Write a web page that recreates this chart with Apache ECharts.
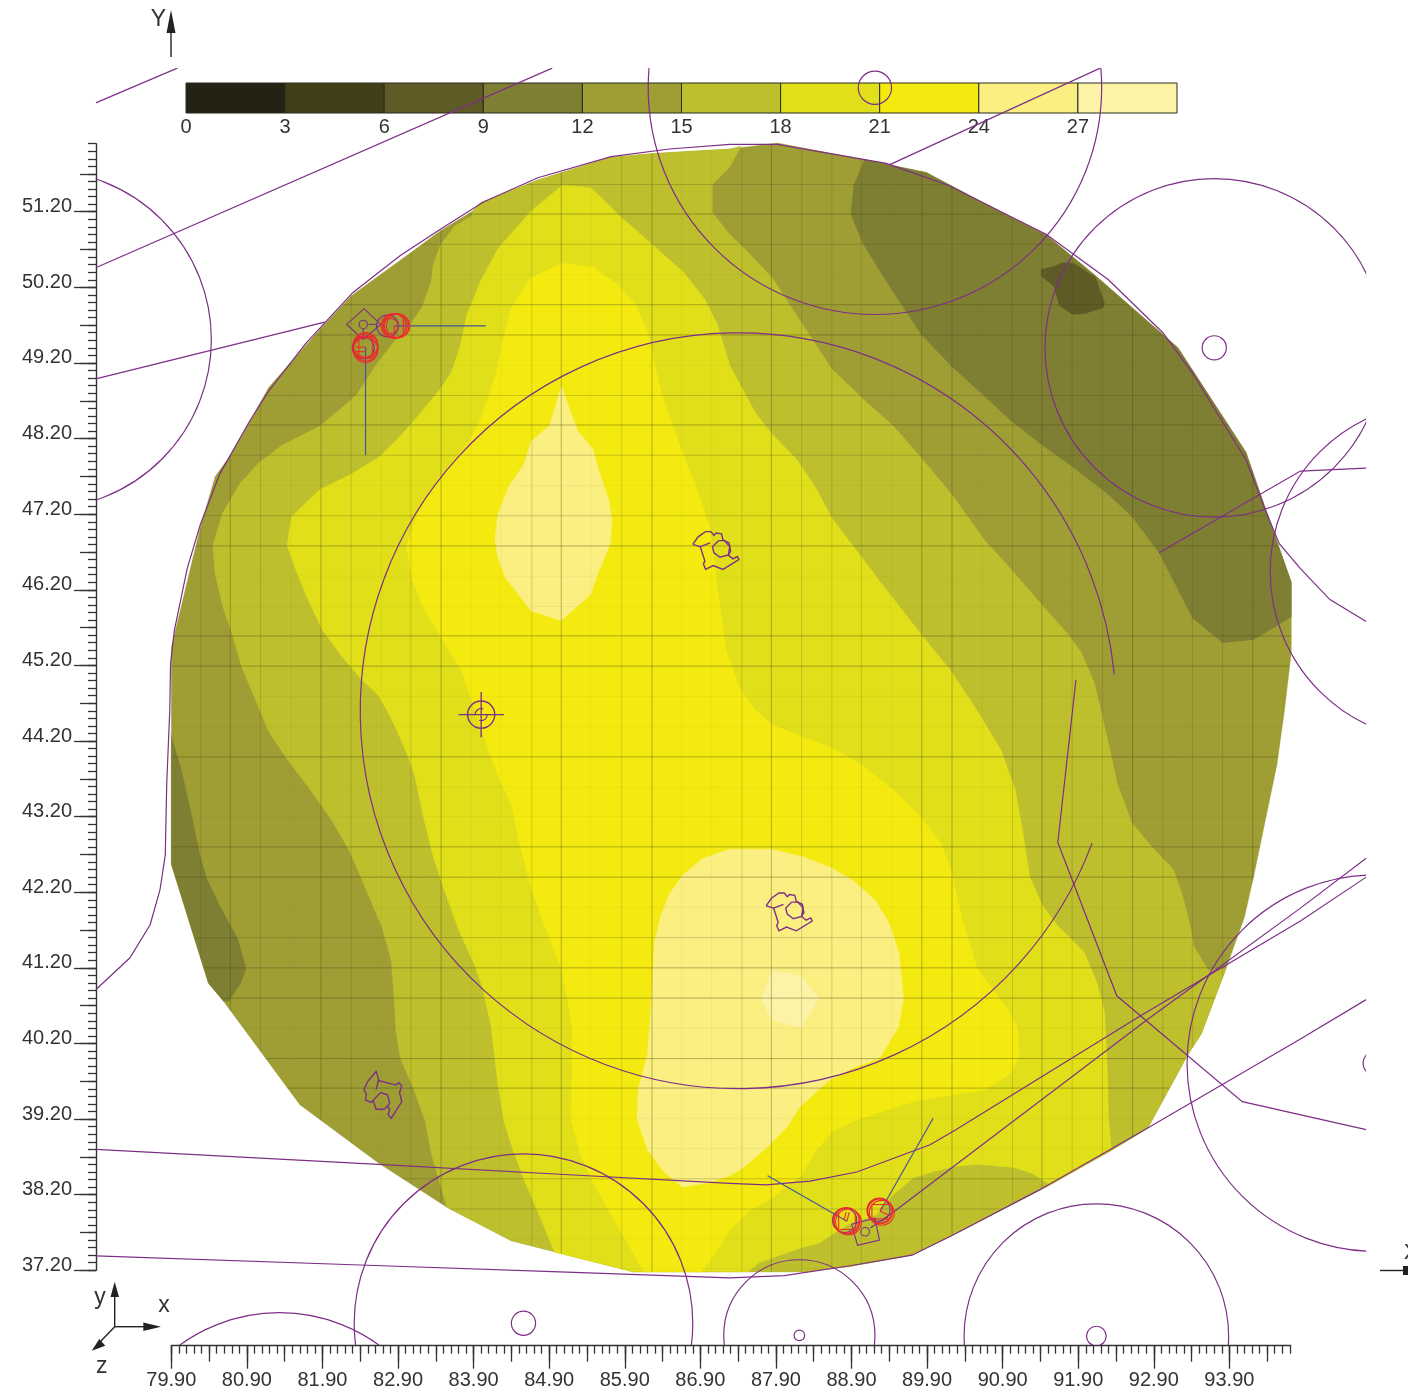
<!DOCTYPE html>
<html><head><meta charset="utf-8">
<style>html,body{margin:0;padding:0;background:#fff}#c{width:1408px;height:1391px}</style>
<script src="https://cdn.jsdelivr.net/npm/echarts@6/dist/echarts.min.js"></script>
</head><body><div id="c"></div>
<script>
// ---- scale ticks
const xMajorTicks=[79.9,80.9,81.9,82.9,83.9,84.9,85.9,86.9,87.9,88.9,89.9,90.9,91.9,92.9,93.9];
const yMajorTicks=[37.2,38.2,39.2,40.2,41.2,42.2,43.2,44.2,45.2,46.2,47.2,48.2,49.2,50.2,51.2];
const colorbarTicks=[0,3,6,9,12,15,18,21,24,27];
const colorbarLevels=[[0,3],[3,6],[6,9],[9,12],[12,15],[15,18],[18,21],[21,24],[24,27],[27,30]];
const levelColors=['#232213','#423f18','#5e5b27','#7f7f33','#9f9e35','#bdbf2d','#e0df1a','#f5ea10','#faef80','#fcf3a6'];
// ---- filled contour regions (x, y)
const regionOutline=[[79.90,45.44],[80.28,47.01],[80.48,47.70],[80.69,47.99],[81.19,48.88],[81.87,49.65],[82.28,50.09],[83.07,50.66],[83.46,50.95],[83.89,51.21],[83.99,51.32],[84.75,51.62],[85.72,51.92],[86.27,51.97],[87.29,52.03],[87.92,52.11],[88.44,52.01],[89.07,51.89],[89.89,51.72],[90.85,51.21],[91.48,50.89],[92.11,50.37],[92.97,49.62],[93.22,49.40],[94.12,48.02],[94.32,47.44],[94.72,46.30],[94.72,45.37],[94.63,44.61],[94.53,43.89],[94.22,42.40],[94.10,41.87],[93.84,41.15],[93.53,40.33],[93.35,40.05],[92.82,39.08],[92.35,38.79],[91.53,38.33],[90.23,37.66],[89.70,37.40],[88.88,37.25],[88.30,37.18],[87.29,37.18],[86.01,37.18],[84.40,37.59],[83.55,38.03],[82.64,38.62],[81.60,39.39],[80.59,40.76],[80.39,41.00],[79.90,42.57],[79.90,44.28]];
const band9Left=[[79.90,44.28],[80.04,43.79],[80.16,43.26],[80.28,42.69],[80.37,42.38],[80.54,42.02],[80.78,41.58],[80.89,41.19],[80.82,41.00],[80.66,40.76],[80.59,40.76],[80.39,41.00],[79.90,42.57]];
const band9Right=[[89.07,51.89],[88.93,51.55],[88.89,51.17],[89.05,50.78],[89.36,50.28],[89.82,49.58],[90.23,49.15],[90.66,48.76],[91.03,48.42],[91.43,48.11],[91.82,47.83],[92.30,47.46],[92.61,47.17],[92.97,46.69],[93.41,45.83],[93.81,45.50],[94.22,45.54],[94.72,45.84],[94.72,46.30],[94.32,47.44],[94.12,48.02],[93.22,49.40],[92.97,49.62],[92.11,50.37],[91.48,50.89],[90.85,51.21],[89.89,51.72]];
const band6=[[91.41,50.44],[91.55,50.47],[91.70,50.53],[91.84,50.52],[92.13,50.33],[92.25,49.99],[92.23,49.93],[91.98,49.85],[91.82,49.84],[91.65,49.96],[91.58,50.21],[91.41,50.35]];
const band15=[[83.89,51.21],[83.87,51.14],[83.65,51.01],[83.46,50.76],[83.36,50.49],[83.34,50.28],[83.22,49.94],[83.05,49.70],[82.83,49.46],[82.64,49.22],[82.35,48.78],[82.11,48.57],[81.87,48.37],[81.36,48.11],[81.07,47.89],[80.81,47.61],[80.58,47.22],[80.45,46.79],[80.48,46.40],[80.59,45.95],[80.69,45.66],[80.83,45.18],[81.07,44.61],[81.19,44.32],[81.41,43.99],[81.72,43.58],[82.01,43.17],[82.25,42.76],[82.45,42.30],[82.69,41.73],[82.81,41.29],[82.85,40.76],[82.87,40.38],[82.93,40.00],[83.09,39.64],[83.26,39.17],[83.34,38.74],[83.46,38.32],[83.55,38.03],[84.40,37.59],[86.01,37.18],[87.29,37.18],[88.30,37.18],[88.88,37.25],[89.70,37.40],[90.23,37.66],[91.53,38.33],[92.35,38.79],[92.82,39.08],[93.35,40.05],[93.53,40.33],[93.86,41.20],[93.62,41.17],[93.43,41.49],[93.38,41.77],[93.28,42.16],[93.16,42.50],[92.85,42.83],[92.61,43.12],[92.42,43.63],[92.32,44.08],[92.20,44.61],[92.11,44.98],[91.94,45.37],[91.77,45.61],[91.43,45.99],[91.05,46.43],[90.66,46.86],[90.23,47.46],[89.82,47.95],[89.46,48.36],[89.07,48.71],[88.64,49.12],[88.26,49.70],[87.85,50.33],[87.44,50.76],[87.29,50.90],[87.06,51.19],[87.06,51.56],[87.29,51.79],[87.44,52.07],[87.29,52.03],[86.27,51.97],[85.72,51.92],[84.75,51.62],[83.99,51.32]];
const band18=[[85.07,51.55],[85.45,51.52],[85.65,51.33],[85.84,51.14],[86.25,50.78],[86.68,50.40],[86.97,50.03],[87.13,49.70],[87.29,49.17],[87.63,48.54],[87.85,48.26],[88.18,47.92],[88.44,47.53],[88.64,47.15],[88.93,46.77],[89.24,46.36],[89.56,45.95],[89.84,45.59],[90.20,45.15],[90.56,44.61],[90.88,44.08],[91.07,43.55],[91.17,42.98],[91.26,42.40],[91.43,42.02],[91.62,41.77],[91.98,41.41],[92.15,41.00],[92.25,40.62],[92.29,39.80],[92.30,39.23],[92.34,38.80],[91.53,38.33],[91.29,38.48],[91.05,38.56],[90.56,38.60],[90.24,38.57],[89.94,38.49],[89.72,38.42],[89.45,38.20],[89.23,37.93],[88.90,37.83],[88.70,37.71],[88.48,37.56],[88.22,37.49],[87.96,37.40],[87.68,37.30],[87.53,37.18],[86.01,37.18],[84.97,37.44],[84.75,37.97],[84.56,38.41],[84.42,38.79],[84.30,39.17],[84.22,39.66],[84.18,40.00],[84.13,40.43],[84.01,40.96],[83.91,41.24],[83.69,41.73],[83.50,42.26],[83.36,42.69],[83.24,43.17],[83.12,43.74],[83.02,44.03],[82.87,44.37],[82.75,44.61],[82.64,44.80],[82.40,45.03],[82.13,45.35],[81.89,45.68],[81.70,46.09],[81.55,46.45],[81.43,46.79],[81.49,47.17],[81.87,47.53],[82.28,47.73],[82.64,47.95],[82.88,48.18],[83.12,48.45],[83.46,48.86],[83.60,49.07],[83.72,49.41],[83.81,49.84],[83.99,50.28],[84.22,50.71],[84.66,51.21]];
const band21=[[85.07,50.52],[85.48,50.47],[85.79,50.25],[86.05,49.96],[86.21,49.60],[86.27,49.31],[86.39,48.78],[86.61,48.16],[86.87,47.49],[87.02,47.05],[87.09,46.52],[87.16,45.99],[87.24,45.40],[87.43,44.88],[87.63,44.61],[87.85,44.42],[88.26,44.25],[88.64,44.11],[89.03,43.89],[89.46,43.55],[89.84,43.17],[90.09,42.83],[90.23,42.45],[90.37,41.82],[90.56,41.20],[90.95,40.67],[91.10,40.41],[91.12,40.02],[91.00,39.80],[90.66,39.58],[90.18,39.51],[89.79,39.45],[89.22,39.27],[88.93,39.17],[88.64,39.03],[88.44,38.79],[88.23,38.45],[87.87,38.17],[87.53,37.97],[87.29,37.73],[87.11,37.44],[86.92,37.18],[86.15,37.18],[85.86,37.69],[85.48,38.36],[85.31,38.74],[85.19,39.17],[85.20,39.80],[85.20,40.43],[85.14,40.81],[85.04,41.24],[84.85,41.73],[84.66,42.26],[84.51,42.83],[84.40,43.36],[84.22,43.74],[84.03,44.27],[83.87,44.74],[83.74,45.13],[83.46,45.59],[83.24,45.95],[83.09,46.33],[83.01,46.77],[83.16,47.22],[83.46,47.71],[83.84,48.16],[83.99,48.45],[84.10,48.78],[84.20,49.07],[84.28,49.46],[84.40,49.94],[84.66,50.33]];
const band24Upper=[[85.06,48.90],[85.19,48.54],[85.28,48.30],[85.48,48.06],[85.57,47.73],[85.69,47.39],[85.73,47.12],[85.71,46.81],[85.55,46.43],[85.45,46.14],[85.06,45.79],[84.66,45.92],[84.32,46.36],[84.22,46.62],[84.18,46.86],[84.22,47.20],[84.37,47.58],[84.56,47.85],[84.66,48.16],[84.90,48.37],[84.97,48.59]];
const band24Lower=[[87.29,42.77],[87.85,42.77],[88.26,42.67],[88.64,42.52],[88.93,42.35],[89.22,42.09],[89.41,41.77],[89.53,41.39],[89.59,40.79],[89.52,40.41],[89.27,40.00],[88.93,39.88],[88.59,39.70],[88.21,39.35],[88.06,39.11],[87.78,38.82],[87.46,38.55],[87.29,38.45],[87.02,38.36],[86.66,38.30],[86.42,38.50],[86.20,38.79],[86.06,39.20],[86.08,39.61],[86.20,40.05],[86.25,40.76],[86.29,41.53],[86.37,41.87],[86.48,42.16],[86.66,42.42],[86.92,42.64],[87.16,42.73]];
const band27=[[87.85,41.17],[88.23,41.10],[88.47,40.79],[88.24,40.41],[87.85,40.50],[87.70,40.79]];
// ---- mesh lines
const meshXStrong=[80.68,81.88,83.47,85.06,86.26,87.84,89.83,90.23,91.42,92.62,94.21];
const meshXMedium=[80.29,81.08,82.28,83.07,84.67,85.86,87.45,88.24,88.64,89.03,91.03,91.82,92.22,93.02,93.41,93.81];
const meshXFaint=[81.48,82.68,83.87,84.26,85.45,86.65,87.05,89.43,90.63,94.61];
const meshYStrong=[51.17,49.97,49.57,48.38,46.78,45.59,45.19,43.99,42.80,42.40,41.20,40.80,40.00,39.61];
const meshYMedium=[51.56,50.77,48.77,47.98,47.18,41.60,38.41,38.01];
const meshYFaint=[50.37,49.17,47.58,46.38,45.98,44.79,44.39,43.59,43.20,42.00,40.40,39.21,38.81,37.62,37.22];
// ---- overlay lines
const viewWindow=[78.90,95.71,36.21,53.10];
const lineA=[[78.90,52.64],[79.98,53.10]];
const lineB=[[78.90,50.46],[84.94,53.10]];
const lineC=[[78.90,48.99],[81.93,49.74]];
const lineD=[[89.40,51.82],[92.19,53.10]];
const outlineTrace=[[78.90,40.91],[79.35,41.33],[79.62,41.77],[79.75,42.23],[79.82,42.69],[79.84,43.65],[79.88,44.61],[79.89,45.22],[79.94,45.66],[80.11,46.48],[80.28,47.05],[80.54,47.73],[80.93,48.42],[81.19,48.83],[81.68,49.46],[82.30,50.13],[82.93,50.62],[83.46,50.97],[84.03,51.33],[84.75,51.65],[85.72,51.93],[86.49,52.03],[87.29,52.09],[87.92,52.09],[89.36,51.84],[90.18,51.55],[91.48,50.90],[92.30,50.30],[93.02,49.60],[93.41,49.07],[94.12,47.92],[94.37,47.27],[94.56,46.81],[94.84,46.48],[95.23,46.07],[95.71,45.78]];
const lowerTrace=[[78.90,37.39],[82.40,37.27],[85.04,37.18],[87.29,37.10],[88.01,37.13],[88.88,37.26],[89.70,37.40],[90.23,37.66],[91.38,38.26],[92.78,39.06],[94.84,40.26],[95.71,40.78]];
const sweepTrace=[[78.90,38.80],[82.64,38.60],[85.04,38.47],[87.29,38.35],[87.77,38.33],[88.35,38.38],[88.97,38.50],[89.94,38.86],[90.28,39.06],[92.73,40.57],[93.59,41.08],[94.84,41.99],[95.71,42.65]];
const feedTrace=[[89.15,37.76],[89.43,37.95],[92.82,40.52],[93.59,41.08],[94.84,41.82],[95.71,42.40]];
const kinkTrace=[[91.87,45.01],[91.63,42.86],[92.41,40.83],[94.07,39.43],[95.71,39.06]];
const branchTrace=[[92.97,46.69],[94.84,47.77],[95.71,47.81]];
// circles: x, y, radius
const circles=[[89.21,52.84,3.00],[89.21,52.84,0.22],[93.70,49.40,2.24],[93.70,49.40,0.16],[78.19,49.51,2.24],[96.68,46.44,2.24],[95.83,39.94,2.49],[95.83,39.94,0.16],[84.56,36.50,2.24],[84.56,36.50,0.16],[88.21,36.34,1.00],[88.21,36.34,0.07],[92.14,36.33,1.75],[92.14,36.33,0.13],[81.33,34.40,2.24]];
// arc: x, y, radius, start degree, end degree
const mainArc=[87.40,44.60,5.00,20.5,354.5];
// glyph shapes as offsets around a centre
const glyphCentersA=[[87.10,46.73],[88.07,41.95]];
const glyphOutlineA=[[-0.30,0.07],[-0.23,0.17],[-0.13,0.24],[-0.06,0.24],[-0.02,0.19],[0.01,0.22],[0.08,0.21],[0.10,0.13],[0.18,0.09],[0.20,-0.02],[0.17,-0.07],[0.23,-0.12],[0.29,-0.09],[0.31,-0.13],[0.10,-0.26],[-0.03,-0.21],[-0.13,-0.26],[-0.16,-0.19],[-0.14,-0.15],[-0.20,0.04],[-0.30,0.07]];
const glyphHexA=[[0.04,0.12],[0.12,0.12],[0.19,0.04],[0.17,-0.07],[0.06,-0.10],[-0.02,-0.04],[-0.04,0.04],[0.04,0.12]];
const glyphStubA=[[-0.20,0.04],[-0.07,0.09]];
const glyphCentersB=[[82.68,39.52]];
const glyphOutlineB=[[-0.11,-0.07],[-0.13,-0.10],[-0.21,-0.07],[-0.20,0.01],[-0.23,0.07],[-0.18,0.18],[-0.07,0.31],[-0.04,0.22],[-0.04,0.19],[0.19,0.13],[0.23,0.16],[0.27,0.12],[0.24,0.03],[0.27,-0.09],[0.13,-0.31],[0.09,-0.26],[0.11,-0.19],[0.08,-0.15]];
const glyphHexB=[[-0.11,-0.07],[-0.01,0.03],[0.08,0.00],[0.11,-0.11],[0.04,-0.19],[-0.07,-0.19],[-0.11,-0.07]];
const glyphStubB=[[-0.04,0.19],[-0.07,0.07]];
// target
const targetPoint=[84.00,44.55,0.18,0.30,0.08];
// well markers
const diamond=[[82.45,49.92],[82.67,49.71],[82.44,49.51],[82.22,49.71],[82.45,49.92]];
const square=[[88.90,37.81],[89.21,37.89],[89.27,37.60],[88.98,37.53],[88.90,37.81]];
const stubLines=[[[82.51,49.71],[82.62,49.71]],[[82.44,49.65],[82.44,49.53]]];
const wellCircles=[[82.44,49.71,0.055],[82.76,49.69,0.145],[82.44,49.40,0.145],[89.08,37.71,0.057],[88.81,37.86,0.16],[89.26,38.00,0.15]];
const redCircles=[[82.84,49.69,0.163],[82.86,49.69,0.163],[82.88,49.69,0.163],[82.90,49.69,0.155],[82.80,49.69,0.10],[82.47,49.44,0.162],[82.47,49.42,0.165],[82.47,49.39,0.165],[82.47,49.37,0.162],[88.83,37.86,0.17],[88.84,37.85,0.17],[88.86,37.84,0.17],[89.27,37.99,0.165],[89.28,37.98,0.165],[89.30,37.96,0.165]];
const redLines=[[[82.85,49.70],[82.85,49.55]],[[82.72,49.79],[82.72,49.59]],[[82.97,49.80],[82.97,49.58]],[[82.34,49.41],[82.47,49.41]],[[82.34,49.35],[82.47,49.35]],[[82.38,49.55],[82.56,49.55]],[[82.38,49.27],[82.56,49.27]],[[82.38,49.54],[82.38,49.28]],[[82.56,49.54],[82.56,49.28]],[[88.84,37.85],[88.87,37.97]],[[88.80,37.86],[88.83,37.97]],[[88.73,37.96],[88.73,37.74]],[[88.95,37.96],[88.95,37.74]],[[88.75,37.74],[88.93,37.74]],[[89.28,37.98],[89.39,37.93]],[[89.28,37.98],[89.30,38.04]],[[89.17,38.07],[89.39,38.07]],[[89.17,37.88],[89.39,37.88]],[[89.17,38.07],[89.17,37.88]]];
const blueLines=[[[82.86,49.69],[84.06,49.69]],[[82.47,49.41],[82.47,47.98]],[[87.79,38.45],[88.84,37.85]],[[89.28,37.98],[89.98,39.21]]];

const PURPLE='#7d2f87',BLUE='#46559c',RED='#ee2a2e',INK='#333333',FONT='"Liberation Sans",Arial,sans-serif';
const DEG=Math.PI/180;

function single(name,z,render,pointData){
  return {type:'custom',name,coordinateSystem:'cartesian2d',xAxisIndex:0,yAxisIndex:0,silent:true,z,
    data:[pointData],renderItem:function(p,api){return render(api);}};
}
function fillSeries(name,points,color,z){
  return single(name,z,api=>({type:'polygon',shape:{points:points.map(q=>api.coord(q))},style:{fill:color,stroke:color,lineWidth:0.3}}),points[0]);
}
function winClip(api){
  const a=api.coord([viewWindow[0],viewWindow[3]]),b=api.coord([viewWindow[1],viewWindow[2]]);
  return {type:'rect',shape:{x:a[0],y:a[1],width:b[0]-a[0],height:b[1]-a[1]}};
}
function polyEl(api,list,color,w){
  return {type:'polyline',shape:{points:list.map(q=>api.coord(q))},style:{fill:null,stroke:color,lineWidth:w||1.2}};
}
function circleEl(api,c,color,w){
  const o=api.coord([c[0],c[1]]),e=api.coord([c[0]+c[2],c[1]]);
  return {type:'circle',shape:{cx:o[0],cy:o[1],r:e[0]-o[0]},style:{fill:null,stroke:color,lineWidth:w||1.2}};
}
function glyphEls(api,centers,shapes){
  const out=[];
  centers.forEach(c=>shapes.forEach(s=>out.push(polyEl(api,s.map(q=>[c[0]+q[0],c[1]+q[1]]),PURPLE,1.4))));
  return out;
}
const meshSeries=single('mesh',10,api=>{
  const ch=[];
  const add=(arr,vert,alpha)=>arr.forEach(v=>{
    const a=api.coord(vert?[v,37.1]:[79.8,v]),b=api.coord(vert?[v,52.2]:[94.8,v]);
    ch.push({type:'line',shape:{x1:a[0],y1:a[1],x2:b[0],y2:b[1]},style:{stroke:'rgba(70,70,20,'+alpha+')',lineWidth:1}});
  });
  add(meshXStrong,true,0.36);add(meshXMedium,true,0.2);add(meshXFaint,true,0.05);
  add(meshYStrong,false,0.4);add(meshYMedium,false,0.25);add(meshYFaint,false,0.05);
  return {type:'group',children:ch,clipPath:{type:'polygon',shape:{points:regionOutline.map(q=>api.coord(q))}}};
},regionOutline[0]);
const overlaySeries=single('overlay',20,api=>{
  const ch=[lineA,lineB,lineC,lineD,outlineTrace,lowerTrace,sweepTrace,feedTrace,kinkTrace,branchTrace].map(l=>polyEl(api,l,PURPLE,1.2));
  circles.forEach(c=>ch.push(circleEl(api,c,PURPLE,1.2)));
  const o=api.coord([mainArc[0],mainArc[1]]),e=api.coord([mainArc[0]+mainArc[2],mainArc[1]]);
  ch.push({type:'arc',shape:{cx:o[0],cy:o[1],r:e[0]-o[0],startAngle:mainArc[3]*DEG,endAngle:mainArc[4]*DEG,clockwise:true},style:{fill:null,stroke:PURPLE,lineWidth:1.2}});
  return {type:'group',children:ch,clipPath:winClip(api)};
},viewWindow);
const glyphSeries=single('glyphs',21,api=>{
  const ch=glyphEls(api,glyphCentersA,[glyphOutlineA,glyphHexA,glyphStubA]).concat(glyphEls(api,glyphCentersB,[glyphOutlineB,glyphHexB,glyphStubB]));
  const t=targetPoint,k=api.coord([t[0],t[1]]);
  ch.push(circleEl(api,[t[0],t[1],t[2]],PURPLE,1.4));
  ch.push(polyEl(api,[[t[0]-t[3],t[1]],[t[0]+t[3],t[1]]],PURPLE,1.3));
  ch.push(polyEl(api,[[t[0],t[1]-t[3]],[t[0],t[1]+t[3]]],PURPLE,1.3));
  const e=api.coord([t[0]+t[4],t[1]]);
  ch.push({type:'arc',shape:{cx:k[0],cy:k[1],r:e[0]-k[0],startAngle:180*DEG,endAngle:290*DEG,clockwise:true},style:{fill:null,stroke:PURPLE,lineWidth:1.2}});
  ch.push({type:'arc',shape:{cx:k[0],cy:k[1],r:e[0]-k[0],startAngle:0,endAngle:110*DEG,clockwise:true},style:{fill:null,stroke:PURPLE,lineWidth:1.2}});
  return {type:'group',children:ch};
},targetPoint);
const wellSeries=single('wells',22,api=>{
  const ch=[polyEl(api,diamond,PURPLE,1.1),polyEl(api,square,PURPLE,1.1)];
  stubLines.forEach(l=>ch.push(polyEl(api,l,PURPLE,1.1)));
  blueLines.forEach(l=>ch.push(polyEl(api,l,BLUE,1.2)));
  wellCircles.forEach(c=>ch.push(circleEl(api,c,PURPLE,1.1)));
  redCircles.forEach(c=>ch.push(circleEl(api,c,RED,1.1)));
  redLines.forEach(l=>ch.push(polyEl(api,l,RED,1.1)));
  return {type:'group',children:ch};
},diamond[0]);

const colorbarSeries={type:'custom',name:'levels',coordinateSystem:'cartesian2d',xAxisIndex:3,yAxisIndex:3,silent:true,z:5,
  data:colorbarLevels.map(l=>[l[0],l[1]]),encode:{x:[0,1]},
  renderItem:function(p,api){
    const a=api.coord([api.value(0),1]),b=api.coord([api.value(1),0]);
    return {type:'rect',shape:{x:a[0],y:a[1],width:b[0]-a[0],height:b[1]-a[1]},style:{fill:levelColors[p.dataIndex],stroke:'#2a2a20',lineWidth:1}};
  }};

const minorX=[],midX=[],minorY=[],midY=[];
for(let i=0;i<=148;i++){minorX.push(+(79.9+i*0.1).toFixed(2));}
for(let i=0;i<=149;i++){minorY.push(+(37.2+i*0.1).toFixed(2));}
for(let i=0;i<=29;i++){midX.push(+(79.9+i*0.5).toFixed(2));midY.push(+(37.2+i*0.5).toFixed(2));}

const X0=79.9,X1=94.71,Y0=37.2,Y1=52.1;
function xA(vals,len,labels){
  return {type:'value',gridIndex:0,min:X0,max:X1,position:'bottom',offset:75.4,splitLine:{show:false},
    axisLine:{show:!!labels,onZero:false,lineStyle:{color:INK,width:1.4}},
    axisTick:{show:true,customValues:vals,length:len,inside:false,lineStyle:{color:INK,width:1.3}},
    axisLabel:labels?{show:true,customValues:xMajorTicks,formatter:v=>v.toFixed(2),color:INK,fontFamily:FONT,fontSize:20,margin:25}:{show:false}};
}
function yA(vals,len,labels){
  return {type:'value',gridIndex:0,min:Y0,max:Y1,position:'left',offset:75.3,splitLine:{show:false},
    axisLine:{show:!!labels,onZero:false,lineStyle:{color:INK,width:1.4}},
    axisTick:{show:true,customValues:vals,length:len,inside:false,lineStyle:{color:INK,width:1.3}},
    axisLabel:labels?{show:true,customValues:yMajorTicks,formatter:v=>v.toFixed(2),color:INK,fontFamily:FONT,fontSize:20,margin:24,verticalAlign:'bottom',lineHeight:20,padding:[0,0,-5,0]}:{show:false}};
}
const gLine=(x1,y1,x2,y2,w)=>({type:'line',shape:{x1,y1,x2,y2},style:{stroke:'#222',lineWidth:w||1.4},silent:true});
const gTri=(p)=>({type:'polygon',shape:{points:p},style:{fill:'#222'},silent:true});
const gText=(t,x,y,size)=>({type:'text',x,y,silent:true,style:{text:t,fill:INK,font:(size||21)+'px '+FONT,textAlign:'center',textVerticalAlign:'middle'}});

const chart=echarts.init(document.getElementById('c'),null,{renderer:'canvas'});
chart.setOption({
  animation:false,backgroundColor:'#fff',
  grid:[{left:171.3,top:143.7,width:1119.3,height:1126.6,containLabel:false},{left:186,top:83,width:991,height:30}],
  xAxis:[xA(xMajorTicks,23,true),xA(midX,16,false),xA(minorX,8,false),
    {type:'value',gridIndex:1,min:0,max:30,splitLine:{show:false},axisLine:{show:false},axisTick:{show:false},
     axisLabel:{customValues:colorbarTicks,color:INK,fontFamily:FONT,fontSize:20,margin:4}}],
  yAxis:[yA(yMajorTicks,22,true),yA(midY,16,false),yA(minorY,8,false),
    {type:'value',gridIndex:1,min:0,max:1,show:false}],
  series:[
    fillSeries('12-15',regionOutline,levelColors[4],1),
    fillSeries('9-12 left',band9Left,levelColors[3],2),
    fillSeries('9-12 right',band9Right,levelColors[3],2),
    fillSeries('6-9',band6,levelColors[2],3),
    fillSeries('15-18',band15,levelColors[5],4),
    fillSeries('18-21',band18,levelColors[6],5),
    fillSeries('21-24',band21,levelColors[7],6),
    fillSeries('24-27 upper',band24Upper,levelColors[8],7),
    fillSeries('24-27 lower',band24Lower,levelColors[8],7),
    fillSeries('27-30',band27,levelColors[9],8),
    meshSeries,overlaySeries,glyphSeries,wellSeries,colorbarSeries
  ],
  graphic:{elements:[
    gLine(171,57,171,28),gTri([[171,10],[166.5,33],[175.5,33]]),gText('Y',158.5,20,23),
    gLine(1380,1270.5,1404,1270.5),{type:'rect',shape:{x:1403,y:1266,width:5,height:9},style:{fill:'#222'},silent:true},gText('X',1411,1253,22),
    gLine(114.7,1326.7,114.7,1295),gTri([[114.7,1281.7],[110.5,1297],[119,1297]]),gText('y',100,1298,23),
    gLine(114.7,1326.7,145,1326.7),gTri([[161,1326.7],[143.3,1322.5],[143.3,1331]]),gText('x',164,1306,23),
    gLine(114.7,1326.7,100,1342),gTri([[91.7,1350.7],[99.3,1339],[105.3,1345.7]]),gText('z',101.7,1367,23)
  ]}
});
</script></body></html>
